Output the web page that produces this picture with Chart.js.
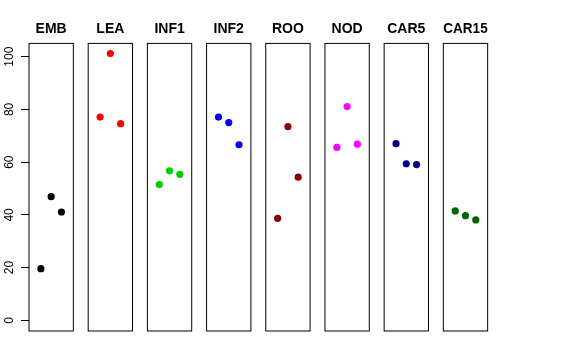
<!DOCTYPE html>
<html><head><meta charset="utf-8">
<script src="https://cdn.jsdelivr.net/npm/chart.js@4/dist/chart.umd.min.js"></script>
<style>
html,body{margin:0;padding:0;background:#fff;}
#wrap{position:relative;width:576px;height:360px;overflow:hidden;background:#fff;}
#wrap canvas{position:absolute;top:0;}
</style></head><body><div id="wrap"></div>
<script>
// ---- data ----
const panels = ['EMB','LEA','INF1','INF2','ROO','NOD','CAR5','CAR15'];
const xPositions = [1, 2, 3];
const EMB   = [19.6, 46.9, 41.1];
const LEA   = [77.1, 101.2, 74.6];
const INF1  = [51.5, 56.7, 55.4];
const INF2  = [77.1, 75.0, 66.6];
const ROO   = [38.7, 73.5, 54.3];
const NOD   = [65.6, 81.1, 66.8];
const CAR5  = [67.0, 59.4, 59.1];
const CAR15 = [41.5, 39.7, 38.1];
const seriesValues = [EMB, LEA, INF1, INF2, ROO, NOD, CAR5, CAR15];
const yTicks = [0, 20, 40, 60, 80, 100];
const colors = ['#000000','#FF0000','#00CD00','#0000FF','#8B0000','#FF00FF','#00008B','#006400'];

// ---- layout ----
const W = 576, H = 360;
const boxTop = 43.4, boxBottom = 331;
const firstLeft = 29, step = 59.19, boxW = 44.33;
const tickLen = 8;
const fontFam = '"Liberation Sans", Arial, Helvetica, sans-serif';

const framePlugin = {
  id: 'frame',
  afterDraw(chart) {
    const a = chart.chartArea, ctx = chart.ctx;
    ctx.save();
    ctx.strokeStyle = '#000';
    ctx.lineWidth = 1;
    ctx.strokeRect(a.left, a.top, a.right - a.left, a.bottom - a.top);
    ctx.restore();
  }
};
const yLabelPlugin = {
  id: 'ylabels',
  afterDraw(chart) {
    const s = chart.scales.y, ctx = chart.ctx;
    if (!s || !s.options.display) return;
    ctx.save();
    ctx.fillStyle = '#000';
    ctx.font = '12px ' + fontFam;
    ctx.textAlign = 'center';
    ctx.textBaseline = 'alphabetic';
    s.ticks.forEach(t => {
      const y = s.getPixelForValue(t.value);
      ctx.save();
      ctx.translate(12.6, y);
      ctx.rotate(-Math.PI / 2);
      ctx.fillText(t.label != null ? String(t.label) : String(t.value), 0, 0);
      ctx.restore();
    });
    ctx.restore();
  }
};

const wrap = document.getElementById('wrap');
panels.forEach((name, i) => {
  const boxLeft = firstLeft + i * step;
  const canvasLeft = i === 0 ? 0 : Math.floor(boxLeft) - 12;
  const canvasW = i === 0 ? 80 : 68;
  const padLeft = i === 0 ? boxLeft - tickLen : boxLeft - canvasLeft;
  const padRight = canvasLeft + canvasW - (boxLeft + boxW);
  const cv = document.createElement('canvas');
  cv.width = canvasW; cv.height = H;
  cv.style.left = canvasLeft + 'px';
  cv.style.width = canvasW + 'px'; cv.style.height = H + 'px';
  wrap.appendChild(cv);
  const titlePadTop = 20.8, titleLH = 16.8;
  const titlePadBottom = boxTop - titlePadTop - titleLH;
  new Chart(cv, {
    type: 'scatter',
    data: {
      datasets: [{
        data: xPositions.map((x, k) => ({ x: x, y: seriesValues[i][k] })),
        backgroundColor: colors[i],
        borderColor: colors[i],
        pointRadius: 3.6,
        pointBorderWidth: 0
      }]
    },
    options: {
      responsive: false,
      devicePixelRatio: 1,
      animation: false,
      layout: { padding: { left: padLeft, right: padRight, top: 0, bottom: H - boxBottom } },
      plugins: { legend: { display: false }, tooltip: { enabled: false }, title: { display: false } },
      scales: {
        x: {
          type: 'linear', position: 'top', min: -0.16, max: 4.16,
          grid: { display: false, drawTicks: false },
          border: { display: false },
          ticks: { display: false },
          title: {
            display: true, text: name, color: '#000',
            font: { family: fontFam, size: 14, weight: 'bold', lineHeight: 1.2 },
            padding: { top: titlePadTop, bottom: titlePadBottom }
          }
        },
        y: {
          type: 'linear', position: 'left', min: -4.04, max: 105.04,
          display: i === 0,
          afterBuildTicks: s => { s.ticks = yTicks.map(v => ({ value: v })); },
          grid: { display: true, drawOnChartArea: false, drawTicks: true, tickLength: tickLen, color: '#000', lineWidth: 1 },
          border: { display: false },
          ticks: { display: false }
        }
      }
    },
    plugins: i === 0 ? [framePlugin, yLabelPlugin] : [framePlugin]
  });
});
</script></body></html>
